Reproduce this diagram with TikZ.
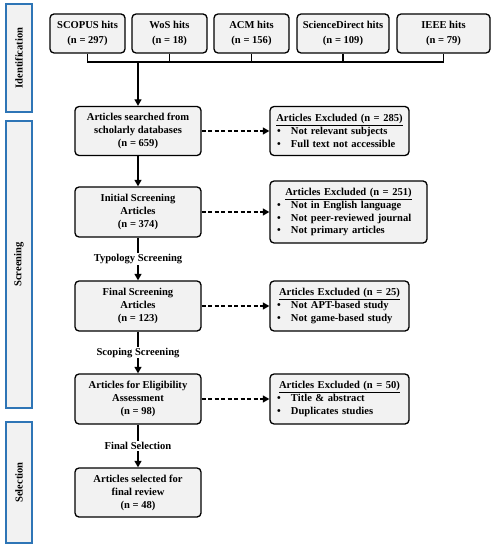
\documentclass[tikz,border=0pt]{standalone}
\usepackage{fontspec}
\setmainfont{Liberation Serif}
\usetikzlibrary{arrows.meta}
\definecolor{boxfill}{HTML}{F2F2F2}
\definecolor{sideblue}{HTML}{2E75B6}
\begin{document}
\begin{tikzpicture}[x=1bp,y=-1bp,
  font=\fontsize{10.6}{13}\selectfont\bfseries,
  box/.style={draw=black, fill=boxfill, line width=1.3bp, rounded corners=4bp,
    minimum width=#1, minimum height=50bp, align=center, inner sep=0pt},
  topbox/.style={box=#1, minimum height=39bp, font=\fontsize{10.6}{14.5}\selectfont\bfseries},
  exbox/.style={draw=black, fill=boxfill, line width=1.3bp, rounded corners=4bp,
    text width=#1, inner xsep=7bp, inner ysep=0pt, align=left},
  sidebox/.style={draw=sideblue, fill=boxfill, line width=1.5bp,
    minimum width=26bp, minimum height=#1, inner sep=0pt},
  conn/.style={line width=1.3bp},
  arr/.style={line width=1.3bp, -{Triangle[length=6.5bp,width=7bp]}},
  darr/.style={line width=1.3bp, dash pattern=on 4bp off 2.5bp, -{Triangle[length=6.5bp,width=7bp]}},
  lbl/.style={fill=white, inner xsep=2bp, inner ysep=1bp}
]
\useasboundingbox (0,0) rectangle (494,550);
\fill[white] (0,0) rectangle (494,550);

% side boxes
\node[sidebox=108bp] (sid) at (19,58) {};
\node[rotate=90] (sidt) at (sid.center) {Identification};
\node[sidebox=287bp] (sscr) at (19,264.5) {};
\node[rotate=90] (sscrt) at (sscr.center) {Screening};
\node[sidebox=121bp] (ssel) at (19,482.5) {};
\node[rotate=90] (sselt) at (ssel.center) {Selection};

% top boxes
\node[topbox=75bp] (s1) at (87.5,33.5) {SCOPUS hits\\(n = 297)};
\node[topbox=75bp] (s2) at (169.5,33.5) {WoS hits\\(n = 18)};
\node[topbox=75bp] (s3) at (251.5,33.5) {ACM hits\\(n = 156)};
\node[topbox=92bp] (s4) at (343,33.5) {ScienceDirect hits\\(n = 109)};
\node[topbox=93bp] (s5) at (443.5,33.5) {IEEE hits\\(n = 79)};

% main column
\node[box=126bp, minimum height=49bp] (b1) at (138,131) {Articles searched from\\scholarly databases\\(n = 659)};
\node[box=126bp] (b2) at (138,212) {Initial Screening\\Articles\\(n = 374)};
\node[box=126bp] (b3) at (138,306) {Final Screening\\Articles\\(n = 123)};
\node[box=126bp] (b4) at (138,399) {Articles for Eligibility\\Assessment\\(n = 98)};
\node[box=126bp, minimum height=49bp] (b5) at (138,492.5) {Articles selected for\\final review\\(n = 48)};

% exclusion boxes
\node[exbox=125bp, minimum height=49bp] (r1) at (339.5,131)
  {\makebox[125bp][c]{\underline{Articles Excluded (n = 285)}}\\
   \makebox[14bp][l]{\textbullet}Not relevant subjects\\
   \makebox[14bp][l]{\textbullet}Full text not accessible};
\node[exbox=143bp, minimum height=62bp] (r2) at (348.5,212)
  {\makebox[143bp][c]{\underline{Articles Excluded (n = 251)}}\\
   \makebox[14bp][l]{\textbullet}Not in English language\\
   \makebox[14bp][l]{\textbullet}Not peer-reviewed journal\\
   \makebox[14bp][l]{\textbullet}Not primary articles};
\node[exbox=125bp, minimum height=50bp] (r3) at (339.5,306)
  {\makebox[125bp][c]{\underline{Articles Excluded (n = 25)}}\\
   \makebox[14bp][l]{\textbullet}Not APT-based study\\
   \makebox[14bp][l]{\textbullet}Not game-based study};
\node[exbox=125bp, minimum height=50bp] (r4) at (339.5,399)
  {\makebox[125bp][c]{\underline{Articles Excluded (n = 50)}}\\
   \makebox[14bp][l]{\textbullet}Title \& abstract\\
   \makebox[14bp][l]{\textbullet}Duplicates studies};

% bus from top boxes
\coordinate (bus) at (138,62);
\draw[conn] (s1.south) -- (s1.south |- bus) -| (s5.south);
\draw[conn] (s2.south) -- (s2.south |- bus);
\draw[conn] (s3.south) -- (s3.south |- bus);
\draw[conn] (s4.south) -- (s4.south |- bus);
\draw[arr] (bus) -- (b1.north);

% main flow
\draw[arr] (b1) -- (b2);
\draw[arr] (b2) -- node[lbl] (l1) {Typology Screening} (b3);
\draw[arr] (b3) -- node[lbl] (l2) {Scoping Screening} (b4);
\draw[arr] (b4) -- node[lbl] (l3) {Final Selection} (b5);

% exclusions
\draw[darr] (b1.east) -- (b1.east -| r1.west);
\draw[darr] (b2.east) -- (b2.east -| r2.west);
\draw[darr] (b3.east) -- (b3.east -| r3.west);
\draw[darr] (b4.east) -- (b4.east -| r4.west);
\end{tikzpicture}
\end{document}
